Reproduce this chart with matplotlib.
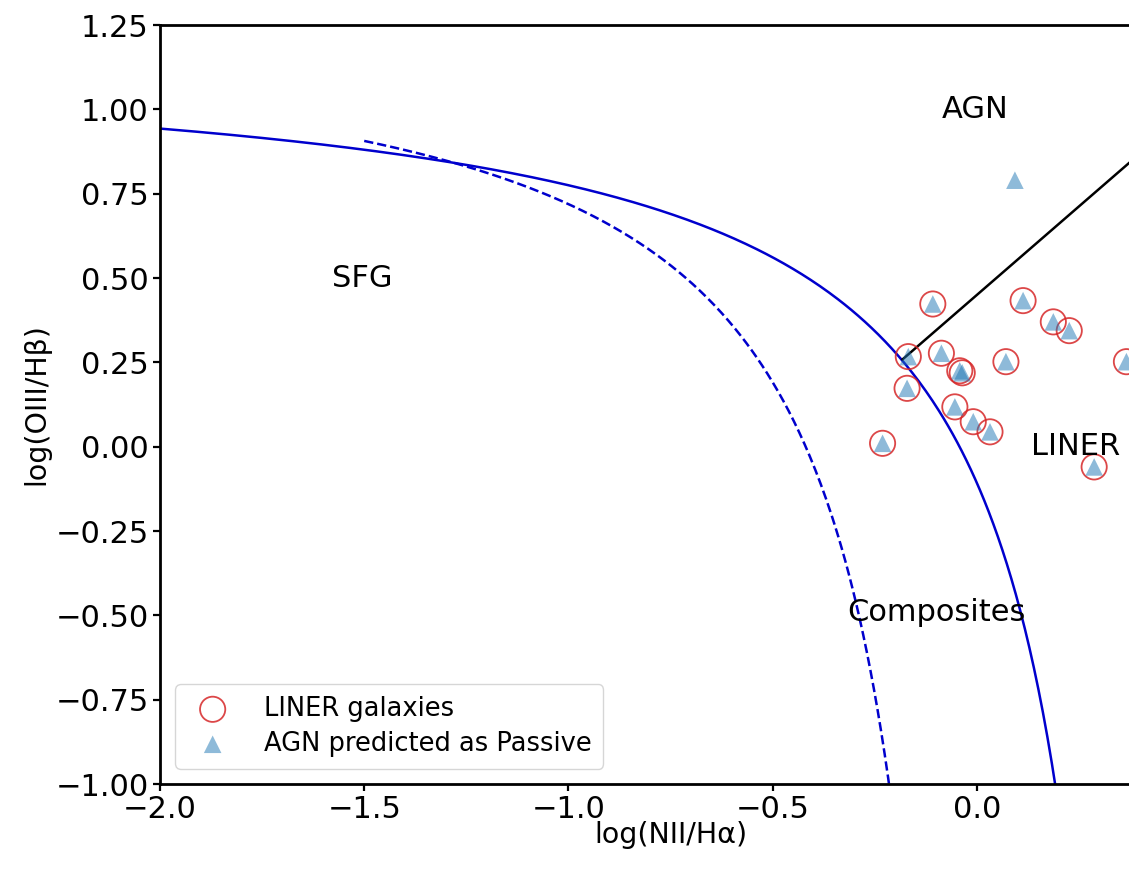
import numpy as np
import matplotlib
matplotlib.use("Agg")
import matplotlib.pyplot as plt

# LINER galaxies on the BPT plane: log(NII/Ha), log(OIII/Hb)
liner_x = [-0.231, -0.171, -0.168, -0.108, -0.087, -0.054, -0.042, -0.036,
           -0.009, 0.032, 0.071, 0.113, 0.187, 0.226, 0.287, 0.366]
liner_y = [0.010, 0.173, 0.267, 0.423, 0.277, 0.118, 0.225, 0.219,
           0.074, 0.044, 0.252, 0.433, 0.370, 0.344, -0.060, 0.252]

# AGN that the classifier put in the passive class
passive_x = liner_x + [0.093]
passive_y = liner_y + [0.790]

# demarcation lines: Kewley+01 (max starburst), Kauffmann+03, Schawinski+07
KEW_A, KEW_B, KEW_C = 0.61, 0.47, 1.19
KAU_A, KAU_B, KAU_C = 0.61, 0.05, 1.30
SCH_M, SCH_Q = 1.05, 0.45

region_labels = ["SFG", "AGN", "LINER", "Composites"]
region_x = [-1.505, -0.005, 0.242, -0.098]
region_y = [0.50, 1.00, 0.0, -0.493]

fig = plt.figure(figsize=(11.29, 8.69), dpi=100)
# the axes run past the right edge of the canvas
ax = fig.add_axes([0.1417, 0.0978, 0.9045, 0.8734])

xk = np.linspace(-2.0, 0.2, 400)
ax.plot(xk, KEW_A / (xk - KEW_B) + KEW_C, color="mediumblue", lw=1.8)
xa = np.linspace(-1.5, -0.2, 300)
ax.plot(xa, KAU_A / (xa - KAU_B) + KAU_C, color="mediumblue", lw=1.8, ls="--")
xs = np.array([-0.182, 0.6])
ax.plot(xs, SCH_M * xs + SCH_Q, color="black", lw=1.8)

ax.scatter(liner_x, liner_y, s=330, facecolors="none", edgecolors="#d62728",
           linewidths=1.3, alpha=0.85, label="LINER galaxies", zorder=3)
ax.scatter(passive_x, passive_y, s=160, marker="^", color="C0", alpha=0.5,
           edgecolors="none", label="AGN predicted as Passive", zorder=4)

for lab, tx, ty in zip(region_labels, region_x, region_y):
    ax.text(tx, ty, lab, fontsize=22, ha="center", va="center")

ax.set_xlim(-2.0, 0.5)
ax.set_ylim(-1.0, 1.25)
ax.set_xticks([-2.0, -1.5, -1.0, -0.5, 0.0])
ax.set_yticks(np.arange(-1.0, 1.26, 0.25))
ax.tick_params(labelsize=22, width=1.6, length=5, pad=3)
for sp in ax.spines.values():
    sp.set_linewidth(2.0)

ax.set_xlabel("log(NII/H\u03b1)", fontsize=20.5, labelpad=-2)
ax.set_ylabel("log(OIII/H\u03b2)", fontsize=20.5, labelpad=4)
ax.legend(loc="lower left", fontsize=18.5, borderpad=0.45, handletextpad=1.0,
          labelspacing=0.35, borderaxespad=0.6)

fig.savefig("out.png", dpi=100)
